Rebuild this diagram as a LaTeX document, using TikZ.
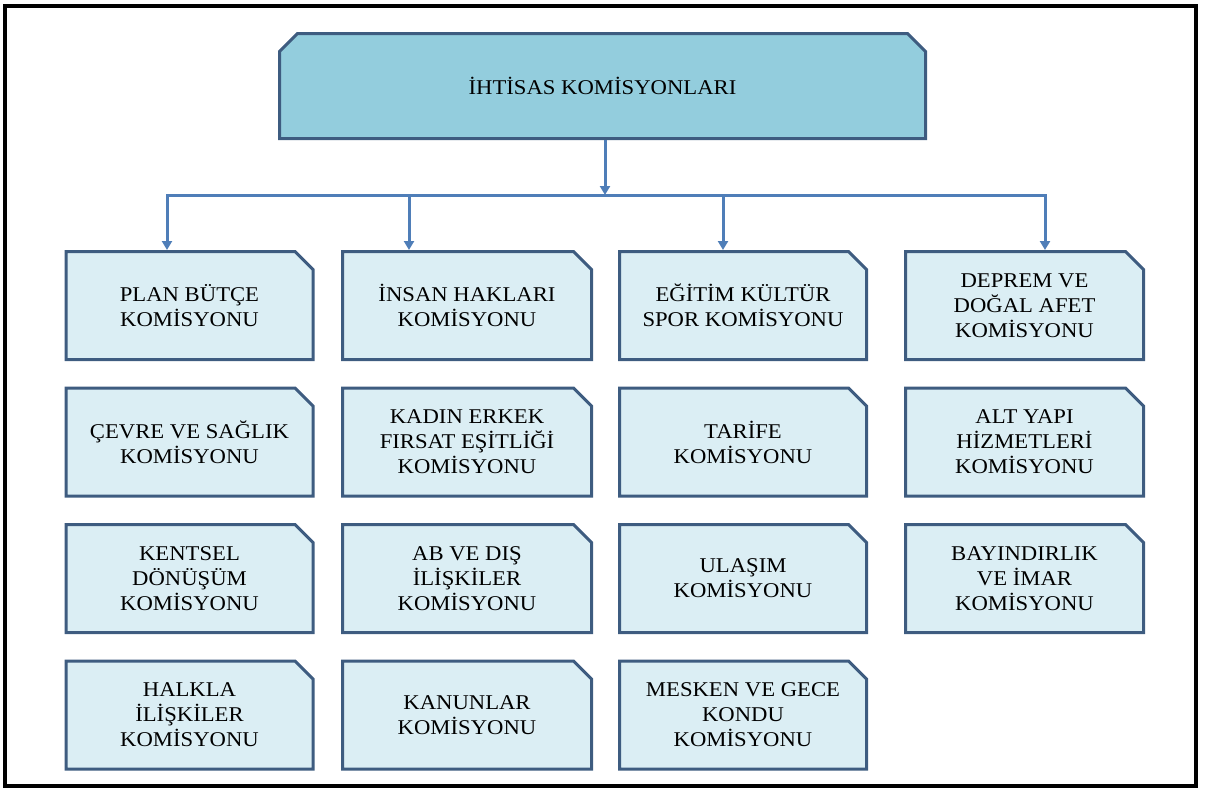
\documentclass[tikz,border=0pt]{standalone}
\usepackage{fontspec}
\setmainfont{Liberation Serif}[FakeStretch=1.08]
\usetikzlibrary{positioning,shapes.misc,arrows.meta}
\definecolor{kenar}{RGB}{62,92,128}
\definecolor{okrenk}{RGB}{79,126,184}
\definecolor{acik}{RGB}{219,238,244}
\definecolor{koyu}{RGB}{147,205,221}

\begin{document}
\begin{tikzpicture}[x=1pt, y=-1pt, node distance=25.5pt,
    komisyon/.style={chamfered rectangle, chamfered rectangle corners=north east,
        chamfered rectangle xsep=9pt, chamfered rectangle ysep=9pt,
        draw=kenar, line width=3pt, fill=acik, minimum width=247pt, minimum height=108pt,
        align=center, font=\fontsize{21}{25}\selectfont},
    baslik/.style={komisyon, chamfered rectangle corners={north west, north east},
        fill=koyu, minimum width=646pt, minimum height=105pt},
    okcizgi/.style={draw=okrenk, line width=3pt, line join=miter},
    oklu/.style={okcizgi, -{Triangle[length=9pt,width=10pt]}}]
    \useasboundingbox (0,0) rectangle (1212,801);
    \draw[line width=3.5pt] (5,6) rectangle (1196,786);

    \node[baslik] (ihtisas) at (602.5,86) {İHTİSAS KOMİSYONLARI};

    \node[komisyon] (plan) at (189.5,305.5) {PLAN BÜTÇE\\KOMİSYONU};
    \node[komisyon, below=of plan] (cevre) {ÇEVRE VE SAĞLIK\\KOMİSYONU};
    \node[komisyon, below=of cevre] (kentsel) {KENTSEL\\DÖNÜŞÜM\\KOMİSYONU};
    \node[komisyon, below=of kentsel] (halkla) {HALKLA\\İLİŞKİLER\\KOMİSYONU};

    \node[komisyon, minimum width=249pt] (insan) at (467,305.5) {İNSAN HAKLARI\\KOMİSYONU};
    \node[komisyon, minimum width=249pt, below=of insan] (kadin) {KADIN ERKEK\\FIRSAT EŞİTLİĞİ\\KOMİSYONU};
    \node[komisyon, minimum width=249pt, below=of kadin] (ab) {AB VE DIŞ\\İLİŞKİLER\\KOMİSYONU};
    \node[komisyon, minimum width=249pt, below=of ab] (kanun) {KANUNLAR\\KOMİSYONU};

    \node[komisyon] (egitim) at (743,305.5) {EĞİTİM KÜLTÜR\\SPOR KOMİSYONU};
    \node[komisyon, below=of egitim] (tarife) {TARİFE\\KOMİSYONU};
    \node[komisyon, below=of tarife] (ulasim) {ULAŞIM\\KOMİSYONU};
    \node[komisyon, below=of ulasim] (mesken) {MESKEN VE GECE\\KONDU\\KOMİSYONU};

    \node[komisyon, minimum width=238pt] (deprem) at (1024.5,305.5) {DEPREM VE\\DOĞAL AFET\\KOMİSYONU};
    \node[komisyon, minimum width=238pt, below=of deprem] (altyapi) {ALT YAPI\\HİZMETLERİ\\KOMİSYONU};
    \node[komisyon, minimum width=238pt, below=of altyapi] (bayindirlik) {BAYINDIRLIK\\VE İMAR\\KOMİSYONU};

    \coordinate (govde) at (605,195);
    \coordinate (b1) at (167,195);
    \coordinate (b2) at (409,195);
    \coordinate (b3) at (723,195);
    \coordinate (b4) at (1045,195);

    \draw[oklu] (ihtisas.south -| govde) -- (govde);
    \draw[oklu] (govde) -- (b1) -- (b1 |- plan.north);
    \draw[oklu] (govde) -- (b4) -- (b4 |- deprem.north);
    \draw[oklu] (b2) -- (b2 |- insan.north);
    \draw[oklu] (b3) -- (b3 |- egitim.north);
\end{tikzpicture}
\end{document}
